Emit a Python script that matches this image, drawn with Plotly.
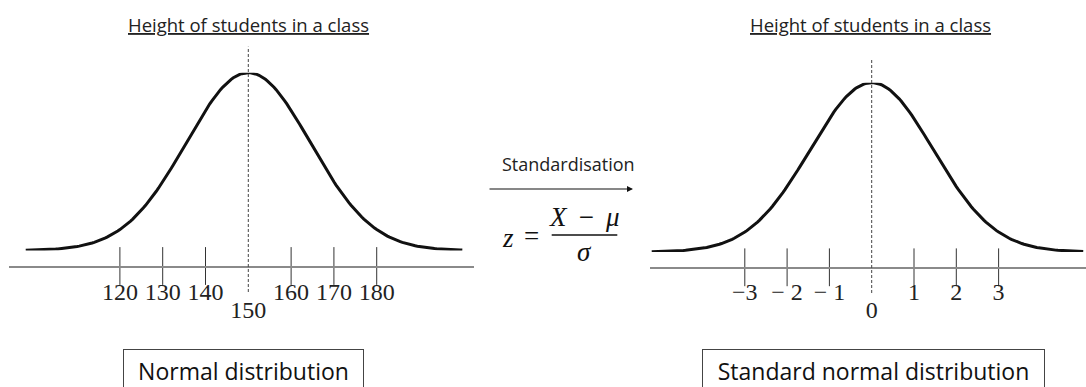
import numpy as np
import plotly.graph_objects as go

W, H = 1086, 387


def fx(p):
    """Horizontal pixel -> paper fraction."""
    return p / W


def fy(p):
    """Vertical pixel (from top) -> paper fraction."""
    return 1 - p / H


# ---- data -------------------------------------------------------------
mean_height = 150          # cm
sd_height = 10             # cm, one tick step
bell_spread = 14.5         # spread of the drawn bell, cm
curve_heights = np.arange(98, 200.25, 0.5)

height_ticks = [120, 130, 140, 160, 170, 180]
height_tick_text = ["120", "130", "140", "160", "170", "180"]
z_ticks = [-3, -2, -1, 1, 2, 3]
z_tick_text = ["\u22123", "\u2212 2", "\u2212 1", "1", "2", "3"]

panel_title = "Height of students in a class"
left_label = "Normal distribution"
right_label = "Standard normal distribution"
arrow_label = "Standardisation"

# bell curve (unit peak) and its standardised copy
bell = np.exp(-0.5 * ((curve_heights - mean_height) / bell_spread) ** 2)
curve_z = (curve_heights - mean_height) / sd_height

SANS = "Open Sans"
SERIF = "Liberation Serif"
INK = "#111111"
AXIS_GREY = "#8a8a8a"
TICK_INK = "#333333"

fig = go.Figure()

# bell curves
fig.add_trace(go.Scatter(x=curve_heights, y=bell, xaxis="x", yaxis="y2",
                         mode="lines", line=dict(color=INK, width=3),
                         hoverinfo="skip", showlegend=False))
fig.add_trace(go.Scatter(x=curve_z, y=bell, xaxis="x3", yaxis="y4",
                         mode="lines", line=dict(color=INK, width=3),
                         hoverinfo="skip", showlegend=False))

# tick marks crossing each number line
fig.add_trace(go.Scatter(x=height_ticks, y=[0] * len(height_ticks),
                         xaxis="x", yaxis="y", mode="markers",
                         marker=dict(symbol="line-ns", size=27,
                                     line=dict(color=TICK_INK, width=1)),
                         cliponaxis=False, hoverinfo="skip", showlegend=False))
fig.add_trace(go.Scatter(x=z_ticks, y=[0] * len(z_ticks),
                         xaxis="x3", yaxis="y3", mode="markers",
                         marker=dict(symbol="line-ns", size=27,
                                     line=dict(color=TICK_INK, width=1)),
                         cliponaxis=False, hoverinfo="skip", showlegend=False))

# placeholders so the overlay axes carrying the centre labels are drawn
fig.add_trace(go.Scatter(x=[mean_height], y=[0], xaxis="x2", yaxis="y",
                         mode="markers", opacity=0, hoverinfo="skip",
                         showlegend=False))
fig.add_trace(go.Scatter(x=[0], y=[0], xaxis="x4", yaxis="y3",
                         mode="markers", opacity=0, hoverinfo="skip",
                         showlegend=False))

tick_font = dict(family=SERIF, size=24, color="#222222")

left_range = [94.09, 202.73]
right_range = [-5.241, 5.066]
left_domain = [fx(9), fx(474)]
right_domain = [fx(650), 1]

common_axis = dict(showgrid=False, zeroline=False, fixedrange=True,
                   ticks="outside", tickcolor="rgba(0,0,0,0)",
                   tickfont=tick_font)

fig.update_layout(
    width=W, height=H,
    margin=dict(l=0, r=0, t=0, b=0),
    paper_bgcolor="white", plot_bgcolor="rgba(0,0,0,0)",
    showlegend=False,
    xaxis=dict(domain=left_domain, range=left_range, anchor="y",
               showline=True, linecolor=AXIS_GREY, linewidth=1.6,
               tickmode="array", tickvals=height_ticks,
               ticktext=height_tick_text, ticklen=3, **common_axis),
    xaxis2=dict(domain=left_domain, range=left_range, anchor="y",
                overlaying="x", showline=False,
                tickmode="array", tickvals=[mean_height],
                ticktext=[str(mean_height)], ticklen=22, **common_axis),
    xaxis3=dict(domain=right_domain, range=right_range, anchor="y3",
                showline=True, linecolor=AXIS_GREY, linewidth=1.6,
                tickmode="array", tickvals=z_ticks,
                ticktext=z_tick_text, ticklen=2, **common_axis),
    xaxis4=dict(domain=right_domain, range=right_range, anchor="y3",
                overlaying="x3", showline=False,
                tickmode="array", tickvals=[0], ticktext=["0"],
                ticklen=21, **common_axis),
    yaxis=dict(domain=[fy(266), 1], range=[0, 1], visible=False,
               fixedrange=True),
    yaxis2=dict(domain=[fy(250.5), fy(72.7)], range=[0, 1], visible=False,
                fixedrange=True, anchor="x"),
    yaxis3=dict(domain=[fy(267.3), 1], range=[0, 1], visible=False,
                fixedrange=True, anchor="x3"),
    yaxis4=dict(domain=[fy(252), fy(82.7)], range=[0, 1], visible=False,
                fixedrange=True, anchor="x3"),
)

# dashed lines through the means
fig.add_shape(type="line", xref="x", yref="paper",
              x0=mean_height, x1=mean_height, y0=fy(292), y1=fy(46.7),
              line=dict(color="#444444", width=1, dash="3px,2px"))
fig.add_shape(type="line", xref="x3", yref="paper",
              x0=0, x1=0, y0=fy(293), y1=fy(58.3),
              line=dict(color="#444444", width=1, dash="3px,2px"))

# panel titles
for cx in (248, 870.3):
    fig.add_annotation(x=fx(cx), y=fy(24), xref="paper", yref="paper",
                       text="<u>" + panel_title + "</u>", showarrow=False,
                       xanchor="center", yanchor="middle",
                       font=dict(family=SANS, size=18.5, color="#222222"))

# boxed captions
fig.add_annotation(x=fx(243), y=fy(370), xref="paper", yref="paper",
                   text=left_label, showarrow=False,
                   xanchor="center", yanchor="middle",
                   width=239, height=41, borderpad=0,
                   bordercolor="#444444", borderwidth=1,
                   font=dict(family=SANS, size=23, color="#111111"))
fig.add_annotation(x=fx(873.9), y=fy(370.5), xref="paper", yref="paper",
                   text=right_label, showarrow=False,
                   xanchor="center", yanchor="middle",
                   width=341, height=41, borderpad=0,
                   bordercolor="#444444", borderwidth=1,
                   font=dict(family=SANS, size=23, color="#111111"))

# standardisation arrow and formula
fig.add_annotation(x=fx(568.3), y=fy(164), xref="paper", yref="paper",
                   text=arrow_label, showarrow=False,
                   xanchor="center", yanchor="middle",
                   font=dict(family=SANS, size=18, color="#222222"))
fig.add_annotation(x=fx(633), y=fy(189), xref="paper", yref="paper",
                   ax=-145, ay=0, text="", showarrow=True,
                   arrowhead=2, arrowsize=1, arrowwidth=1.2,
                   arrowcolor=INK)

math_font = dict(family=SERIF, size=27, color=INK)
fig.add_annotation(x=fx(508.3), y=fy(238), xref="paper", yref="paper",
                   text="<i>z</i>", showarrow=False,
                   xanchor="center", yanchor="middle", font=math_font)
fig.add_annotation(x=fx(531.7), y=fy(236), xref="paper", yref="paper",
                   text="=", showarrow=False,
                   xanchor="center", yanchor="middle", font=math_font)
fig.add_annotation(x=fx(584.3), y=fy(217), xref="paper", yref="paper",
                   text="<i>X</i>\u00a0\u2009\u2212\u00a0\u2009<i>\u03bc</i>",
                   showarrow=False, xanchor="center", yanchor="middle",
                   font=math_font)
fig.add_annotation(x=fx(584.3), y=fy(252), xref="paper", yref="paper",
                   text="<i>\u03c3</i>", showarrow=False,
                   xanchor="center", yanchor="middle", font=math_font)
fig.add_shape(type="line", xref="paper", yref="paper",
              x0=fx(551.7), x1=fx(617.3), y0=fy(235), y1=fy(235),
              line=dict(color=INK, width=1.6))

fig.write_html("out.html")
